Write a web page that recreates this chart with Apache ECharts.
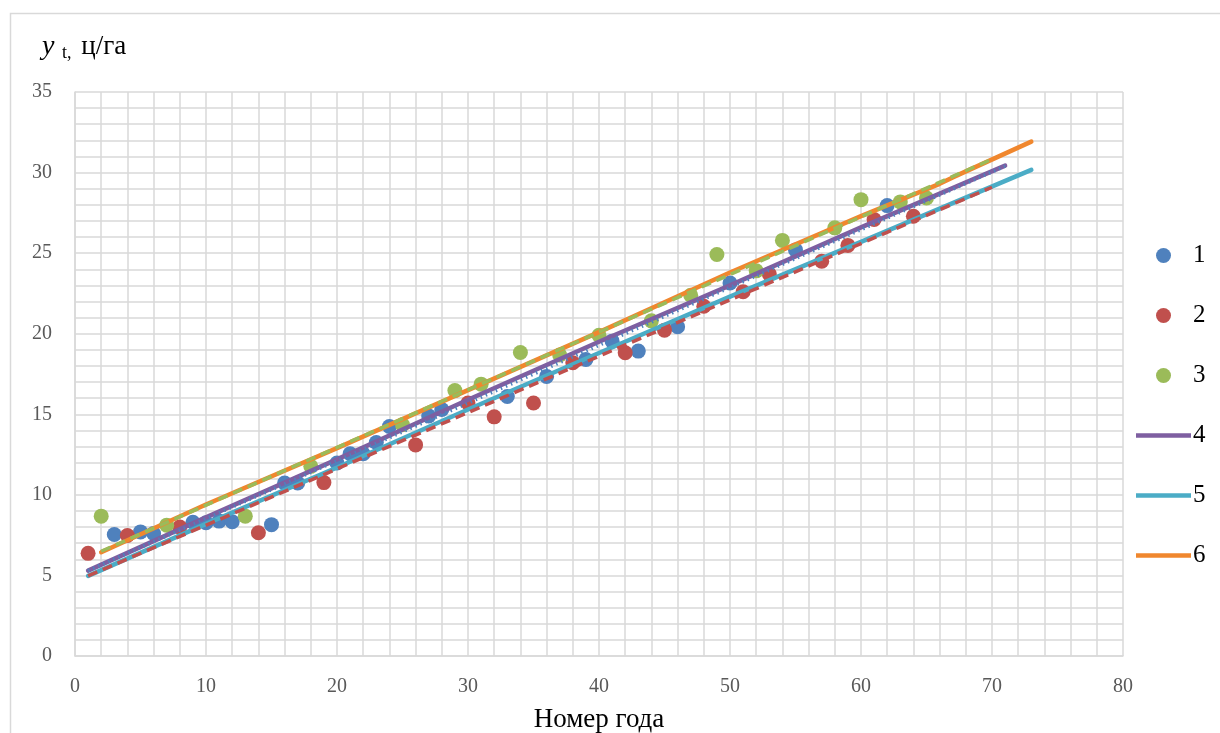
<!DOCTYPE html>
<html>
<head>
<meta charset="utf-8">
<script src="https://cdn.jsdelivr.net/npm/echarts@6/dist/echarts.min.js"></script>
<style>
  html, body { margin: 0; padding: 0; background: #fff; }
  #chart { width: 1220px; height: 733px; }
</style>
</head>
<body>
<div id="chart"></div>
<script>
// observed yields, series 1..3 (year number, value)
var s1X = [3, 5, 6, 9, 10, 11, 12, 15, 16, 17, 20, 21, 22, 23, 24, 27, 28, 33, 36, 39, 41, 43, 46, 50, 55, 62];
var s1Y = [7.54, 7.7, 7.6, 8.3, 8.27, 8.37, 8.33, 8.15, 10.74, 10.74, 11.98, 12.55, 12.55, 13.25, 14.24, 14.9, 15.3, 16.1, 17.35, 18.4, 19.54, 18.92, 20.43, 23.15, 25.2, 27.95];
var s2X = [1, 4, 8, 14, 19, 26, 30, 32, 35, 38, 42, 45, 48, 51, 53, 57, 59, 61, 64];
var s2Y = [6.37, 7.48, 8.0, 7.65, 10.76, 13.1, 15.7, 14.84, 15.7, 18.2, 18.82, 20.22, 21.7, 22.6, 23.7, 24.5, 25.48, 27.09, 27.29];
var s3X = [2, 7, 13, 18, 25, 29, 31, 34, 37, 40, 44, 47, 49, 52, 54, 58, 60, 63, 65];
var s3Y = [8.68, 8.12, 8.68, 11.77, 14.35, 16.47, 16.87, 18.83, 18.68, 19.9, 20.8, 22.39, 24.92, 23.9, 25.79, 26.57, 28.32, 28.18, 28.42];

// model lines 4..6
var l4X = [1, 10, 20, 30, 40, 50, 60, 71];
var l4Y = [5.3, 8.6, 12.2, 15.9, 19.5, 23.0, 26.6, 30.43];
var l5X = [1, 10, 20, 30, 40, 50, 60, 73];
var l5Y = [4.97, 8.2, 11.7, 15.3, 18.8, 22.3, 25.7, 30.17];
var l6X = [2, 10, 20, 30, 40, 50, 60, 66, 67, 73];
var l6Y = [6.44, 9.4, 12.9, 16.5, 20.1, 23.8, 27.3, 29.3, 29.7, 31.92];

// trend lines of series 1..3 (not in legend)
var t1X = [1, 71], t1Y = [5.3, 30.4];
var t2X = [1, 70], t2Y = [4.97, 29.09];
var t3X = [2, 70], t3Y = [6.5, 30.83];

function pairs(xs, ys) {
  var out = [];
  for (var i = 0; i < xs.length; i++) {
    out.push([xs[i], ys[i]]);
  }
  return out;
}

var serif = '"Liberation Serif", "DejaVu Serif", serif';
var gridColor = '#d9d9d9';
var barIcon = 'path://M0,0 L55,0 L55,4.5 L0,4.5 Z';

var chart = echarts.init(document.getElementById('chart'));

function scatter(name, xs, ys, color) {
  return {
    name: name,
    type: 'scatter',
    symbol: 'circle',
    symbolSize: 15,
    itemStyle: { color: color, opacity: 1 },
    z: 2,
    data: pairs(xs, ys)
  };
}

function line(name, xs, ys, color) {
  return {
    name: name,
    type: 'line',
    symbol: 'none',
    lineStyle: { color: color, width: 4.5, cap: 'round' },
    itemStyle: { color: color },
    z: 3,
    data: pairs(xs, ys)
  };
}

function trend(name, xs, ys, color, dash) {
  return {
    name: name,
    type: 'line',
    symbol: 'none',
    silent: true,
    lineStyle: { color: color, width: 3.5, type: dash, cap: 'butt' },
    z: 4,
    data: pairs(xs, ys)
  };
}

var option = {
  animation: false,
  backgroundColor: '#fff',
  grid: { left: 75, top: 92, width: 1048, height: 564, containLabel: false, outerBoundsMode: 'none' },
  graphic: [
    {
      type: 'rect',
      shape: { x: 10.5, y: 13.5, width: 1400, height: 900 },
      style: { fill: 'none', stroke: gridColor, lineWidth: 1.5 },
      silent: true
    },
    {
      type: 'text',
      left: 42,
      top: 33,
      style: {
        text: '{i|y}{s| t,} ц/га',
        font: '27px ' + serif,
        fill: '#000',
        rich: {
          i: { fontStyle: 'italic', fontSize: 28, fontFamily: serif, fill: '#000', padding: [0, 3, 0, 0] },
          s: { fontSize: 18, fontFamily: serif, fill: '#000', padding: [12, 3, 0, 0] }
        }
      }
    }
  ],
  legend: {
    data: [
      { name: '1' },
      { name: '2' },
      { name: '3' },
      { name: '4', icon: barIcon },
      { name: '5', icon: barIcon },
      { name: '6', icon: barIcon }
    ],
    orient: 'vertical',
    left: 1131,
    top: 238,
    itemWidth: 55,
    itemHeight: 15,
    itemGap: 35,
    selectedMode: false,
    textStyle: { fontFamily: serif, fontSize: 25, color: '#000', padding: [0, 0, 0, -3], lineHeight: 25 }
  },
  xAxis: {
    type: 'value',
    min: 0,
    max: 80,
    interval: 10,
    name: 'Номер года',
    nameLocation: 'middle',
    nameGap: 50,
    nameTextStyle: { fontFamily: serif, fontSize: 27, color: '#000' },
    axisLine: { show: true, lineStyle: { color: gridColor, width: 1.5 } },
    axisTick: { show: false },
    axisLabel: { margin: 21, fontFamily: serif, fontSize: 20, color: '#595959' },
    splitLine: { show: true, lineStyle: { color: gridColor, width: 1.5 } },
    minorTick: { show: false, splitNumber: 5 },
    minorSplitLine: { show: true, lineStyle: { color: gridColor, width: 1.5 } }
  },
  yAxis: {
    type: 'value',
    min: 0,
    max: 35,
    interval: 5,
    axisLine: { show: true, lineStyle: { color: gridColor, width: 1.5 } },
    axisTick: { show: false },
    axisLabel: { margin: 23, fontFamily: serif, fontSize: 20, color: '#595959' },
    splitLine: { show: true, lineStyle: { color: gridColor, width: 1.5 } },
    minorTick: { show: false, splitNumber: 5 },
    minorSplitLine: { show: true, lineStyle: { color: gridColor, width: 1.5 } }
  },
  series: [
    scatter('1', s1X, s1Y, '#4F81BD'),
    scatter('2', s2X, s2Y, '#C0504D'),
    scatter('3', s3X, s3Y, '#9BBB59'),
    line('4', l4X, l4Y, '#7E5FA1'),
    line('5', l5X, l5Y, '#4BACC6'),
    line('6', l6X, l6Y, '#F0872E'),
    trend('t1', t1X, t1Y, '#4F81BD', [1.5, 4]),
    trend('t2', t2X, t2Y, '#C0504D', [10, 6]),
    trend('t3', t3X, t3Y, '#9BBB59', [10, 6])
  ]
};

chart.setOption(option);
</script>
</body>
</html>
